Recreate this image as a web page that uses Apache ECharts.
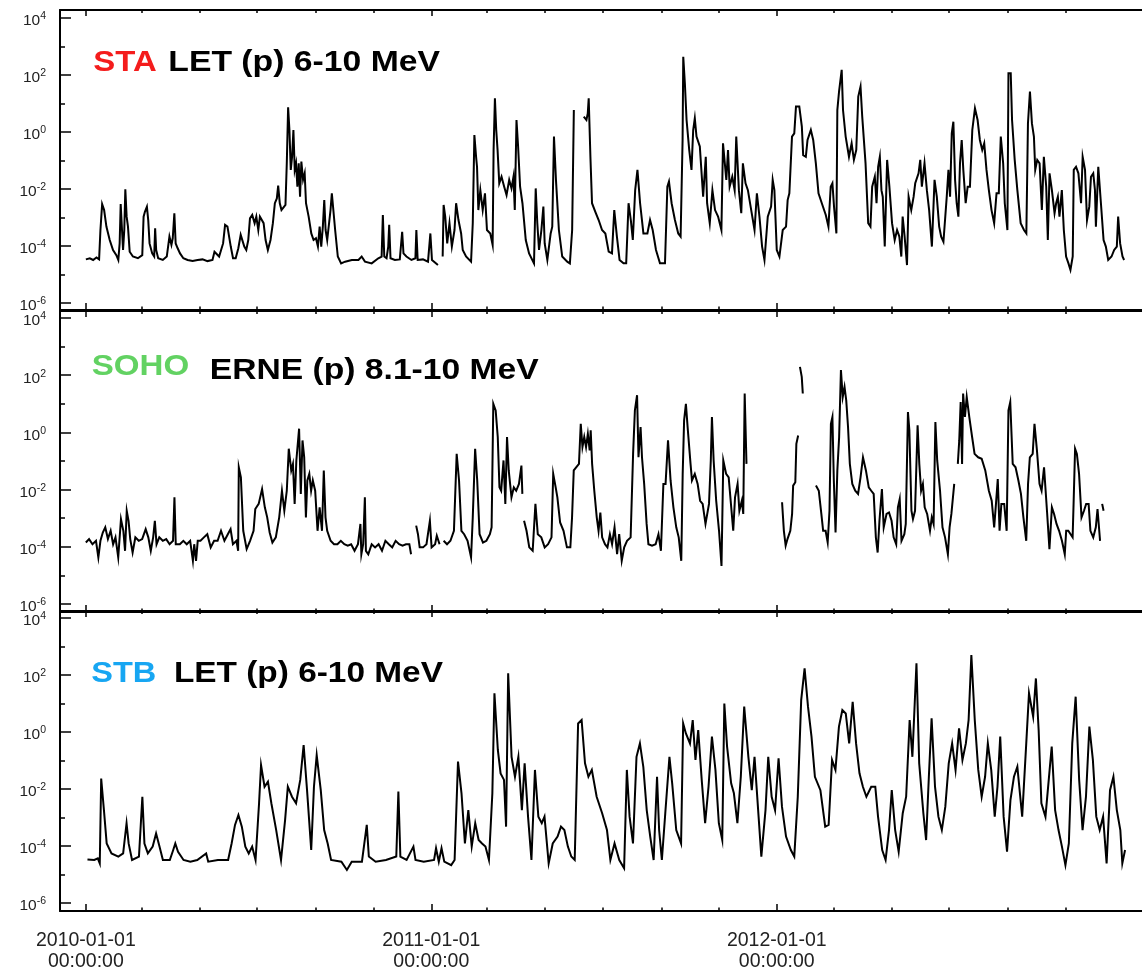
<!DOCTYPE html>
<html>
<head>
<meta charset="utf-8">
<script src="https://cdn.jsdelivr.net/npm/echarts@6/dist/echarts.min.js"></script>
<style>
html,body{margin:0;padding:0;background:#fff;}
#chart{width:1142px;height:972px;}
</style>
</head>
<body>
<div id="chart"></div>
<script>
// ---------- DATA (day offset from 2010-01-01, log10 of flux; null = data gap) ----------
const staPoints = [[0,-4.47],[4.2,-4.43],[7.7,-4.49],[11.2,-4.4],[14,-4.47],[15.4,-3.44],[17.2,-2.53],[19.3,-2.74],[21.7,-3.32],[25.2,-3.79],[28.7,-4.14],[32.2,-4.32],[34.3,-4.49],[35.7,-3.91],[36.8,-2.53],[38.2,-3.44],[39.3,-4.14],[40.6,-3.44],[41.7,-2.01],[43.1,-2.97],[44.5,-3.32],[46.3,-4.2],[49.7,-4.37],[55,-4.43],[59.6,-4.32],[61,-2.97],[62.4,-2.8],[64.5,-2.62],[65.9,-3.09],[67.3,-3.91],[70.1,-4.26],[72.2,-4.37],[73.2,-3.38],[74.3,-4.14],[76.4,-4.43],[81.3,-4.49],[85.5,-4.37],[88.3,-3.67],[90.4,-3.96],[91.8,-3.73],[93.5,-2.85],[94.9,-3.91],[97,-4.08],[99.5,-4.26],[103,-4.43],[107.5,-4.49],[112.8,-4.53],[118,-4.49],[123.3,-4.47],[128.5,-4.53],[133.8,-4.49],[135.9,-4.2],[138,-4.26],[140.8,-4.37],[142.9,-4.14],[145,-3.91],[147.1,-3.26],[149.6,-3.32],[151.3,-3.26],[153.1,-4.02],[155.5,-4.43],[158.3,-4.43],[161.1,-4.08],[163.6,-3.61],[165.3,-3.56],[167.4,-4.02],[169.5,-4.14],[171.6,-3.79],[173.4,-3.03],[175.8,-2.91],[178.3,-3.2],[180.1,-2.97],[182.2,-3.44],[183.9,-2.97],[185.7,-2.91],[187.8,-3.2],[189.9,-3.79],[192.3,-4.14],[195.1,-3.79],[197.6,-3.2],[199.7,-2.5],[201.8,-2.33],[203.2,-1.88],[204.9,-2.5],[206.7,-2.74],[208.8,-2.8],[210.9,-2.56],[212.3,-1.1],[213.7,0.87],[215.1,0.07],[216.5,-1.33],[217.9,-0.87],[219.3,0.07],[220.7,-1.33],[222.1,-1.1],[223.5,-1.92],[224.9,-1.1],[226.3,-2.27],[227.7,-1.04],[229.5,-1.68],[231.2,-1.45],[232.6,-2.5],[235.4,-2.97],[238.2,-3.56],[240.6,-3.79],[243.1,-3.73],[245.2,-4.02],[247,-3.32],[248.7,-4.02],[250.4,-3.32],[251.9,-2.39],[253.3,-3.44],[255,-3.79],[257.1,-3.79],[258.5,-2.74],[259.9,-2.15],[261.7,-2.09],[263.4,-3.44],[266.2,-4.37],[269.7,-4.61],[273.9,-4.55],[281,-4.49],[288,-4.49],[291.4,-4.37],[294.9,-4.55],[302,-4.61],[309,-4.43],[312.5,-4.37],[313.8,-2.91],[315.3,-4.37],[317.7,-4.43],[319.5,-4.02],[320.5,-3.26],[321.9,-4.43],[326.5,-4.49],[331.7,-4.47],[334.2,-3.5],[335.6,-4.26],[338.7,-4.37],[344,-4.49],[348.2,-4.43],[349.2,-3.44],[350.6,-4.49],[356.2,-4.47],[361.5,-4.55],[364,-3.56],[365.7,-4.49],[372,-4.67],[374.5,null],
[377,-4.37],[378,-2.56],[379.7,-2.97],[381.8,-3.91],[384.2,-3.2],[386.7,-4.02],[389.5,-3.44],[391.2,-2.5],[393.7,-3.09],[396.5,-3.56],[398.2,-4.14],[401.7,-4.37],[407,-4.55],[408.8,-3.2],[410.5,-0.11],[412.3,-0.87],[413.3,-1.22],[414.7,-2.74],[416.8,-2.04],[419.3,-2.74],[421.7,-2.15],[423.8,-3.44],[427.3,-3.56],[429.8,-3.96],[430.8,-0.63],[432.2,1.18],[433.6,0.07],[435,-0.63],[436.8,-1.8],[439.2,-1.57],[442,-1.92],[444.5,-2.21],[447.3,-1.68],[449.7,-1.98],[451.8,-1.57],[453.2,-2.74],[455,0.42],[456.7,-0.51],[458.8,-1.92],[461.3,-2.5],[464.8,-3.79],[468.3,-4.26],[473.5,-4.61],[475.3,-1.98],[477,-3.2],[478.8,-4.14],[481.3,-3.44],[483.4,-2.62],[484.8,-3.91],[487.6,-4.49],[491.1,-3.56],[492.8,-3.32],[494.6,-0.16],[496.7,-1.68],[499.8,-3.44],[503.3,-4.37],[508.6,-4.55],[511.4,-4.61],[513.8,-3.44],[515.6,0.77],[520,null],
[526.1,0.54],[528.9,0.42],[530.3,0.65],[531.3,1.18],[533.1,-0.87],[534.8,-2.5],[538.3,-2.8],[541.8,-3.09],[545.4,-3.44],[548.9,-3.56],[552.4,-4.2],[555.9,-4.26],[558.3,-2.74],[561.1,-3.67],[563.9,-4.49],[568.1,-4.61],[570.9,-4.61],[573.4,-2.5],[575.8,-3.09],[577.9,-3.79],[580.4,-2.04],[582.8,-1.33],[585.6,-2.5],[589.1,-3.56],[593.3,-3.56],[596.1,-3.09],[598.9,-3.44],[602.4,-4.14],[606.6,-4.61],[611.9,-4.61],[614.4,-1.92],[616.1,-1.74],[618.9,-2.5],[622.4,-3.09],[625.9,-3.56],[628.4,-3.67],[630.5,-0.28],[631.2,2.64],[632.9,1.71],[634.7,0.42],[637.5,-0.63],[639.9,-1.33],[641.7,0.07],[643.4,0.48],[645.2,-0.16],[648.7,-0.51],[652.2,-2.27],[655,-0.87],[656.4,-2.5],[659.2,-3.2],[662,-2.04],[664.8,-2.74],[668,-2.97],[671.5,-3.44],[673.2,-0.4],[675,-0.34],[676.7,-1.68],[678.5,-0.63],[680.2,-1.92],[683,-1.57],[685.5,-2.04],[687.2,-0.16],[690,-2.04],[692.5,-2.85],[694.2,-1.1],[697,-1.8],[699.5,-2.04],[703,-2.74],[706.5,-3.44],[709,-2.15],[711.7,-2.97],[714.5,-4.02],[717,-4.49],[720.5,-2.97],[724,-2.62],[725.7,-1.68],[727.5,-2.04],[730,-4.14],[732.8,-4.37],[736.3,-3.44],[739.8,-3.32],[741.5,-2.39],[743.3,-2.15],[746.1,-0.16],[748.5,-0.05],[750.3,0.89],[753.8,0.89],[756.5,0.19],[757.9,-0.81],[760.7,-0.87],[762.5,-0.28],[766,0.07],[768.5,-0.28],[771.3,-1.1],[774.1,-2.15],[777.6,-2.5],[781.8,-2.91],[784.6,-3.32],[787,-1.92],[788.8,-1.8],[790.5,-2.62],[793,-3.56],[794,0.77],[795.8,1.42],[798.6,2.18],[800,0.77],[802.8,-0.16],[806.3,-0.87],[809.1,-0.4],[811.5,-0.98],[814,-0.63],[816.1,1.24],[818.5,1.59],[820.3,0.54],[823.8,-1.1],[826.6,-3.2],[829,-3.32],[830.8,-1.92],[833.6,-1.57],[835.4,-2.5],[837.1,-1.22],[838.9,-0.87],[840.6,-2.04],[842,-2.27],[844.1,-4.02],[846.6,-0.98],[849,-1.92],[851.8,-3.2],[854.6,-3.79],[857.1,-3.44],[859.5,-3.67],[861.6,-4.37],[863,-2.97],[865.1,-3.67],[867.6,-4.67],[869.3,-2.27],[872.1,-2.74],[874.6,-2.27],[876.3,-1.8],[879.8,-1.45],[881.6,-0.98],[883.3,-1.92],[886.1,-1.1],[888.6,-2.04],[891,-2.74],[893.9,-4.02],[896.7,-1.68],[899.1,-2.27],[901.6,-3.32],[903.7,-3.67],[906.1,-3.85],[909.6,-2.27],[911.4,-1.33],[913.1,-2.27],[914.9,-0.05],[916.6,0.36],[918.4,-1.68],[920.1,-2.5],[921.9,-2.97],[923.6,-1.1],[925.4,-0.28],[927.1,-1.33],[929.6,-2.5],[931.7,-1.92],[934.1,-1.92],[936.6,0.07],[939.4,0.83],[942.2,0.42],[944.6,-0.28],[947.1,-0.63],[949.2,-0.4],[951.6,-1.33],[954.1,-2.04],[956.9,-2.74],[959.7,-3.2],[962.2,-2.15],[964.6,-2.15],[966.7,-0.16],[969.2,-1.1],[970.9,-2.5],[973.7,-3.44],[974.8,2.06],[977.2,2.06],[978.6,0.42],[981.4,-0.98],[984.2,-2.04],[987.7,-3.2],[991.2,-3.44],[993.7,-3.56],[995.4,0.3],[997.5,1.42],[999.6,0.3],[1001.7,-0.16],[1003.1,-1.33],[1005.2,-0.98],[1007.7,-1.1],[1010.1,-2.74],[1012.2,-0.87],[1014.7,-1.92],[1016.4,-3.79],[1018.2,-1.45],[1020.7,-2.04],[1023.5,-2.85],[1025.2,-2.5],[1027,-2.27],[1028.7,-2.97],[1031.2,-2.04],[1033.3,-3.44],[1035.7,-4.37],[1038.2,-4.61],[1040.3,-4.84],[1042.7,-4.37],[1043.8,-1.33],[1046.2,-1.22],[1048.7,-1.45],[1051.5,-2.5],[1053.2,-0.87],[1055.7,-1.33],[1057.8,-3.09],[1060.2,-2.62],[1062,-1.57],[1064.4,-1.45],[1066.2,-2.04],[1067.2,-3.32],[1069.7,-1.22],[1072.5,-2.5],[1075.3,-3.79],[1077.7,-4.02],[1080.2,-4.49],[1083.7,-4.37],[1086.5,-4.14],[1089.3,-4.02],[1090.7,-2.97],[1092.8,-3.91],[1095.3,-4.37],[1097,-4.49]];

const sohoPoints = [[0,-3.85],[3.4,-3.73],[7,-3.91],[10.7,-3.79],[13.2,-4.37],[15.4,-3.79],[17.9,-3.5],[20.5,-3.32],[23.3,-3.73],[26.2,-3.44],[28.8,-3.91],[31.3,-3.67],[34.2,-4.37],[37.1,-3.03],[39.6,-3.44],[41.4,-4.14],[43.2,-2.74],[45.1,-3.09],[46.9,-3.73],[49.4,-4.2],[52.3,-3.67],[55.9,-3.79],[59.5,-3.73],[63.2,-3.38],[66,-3.67],[68.6,-4.14],[71.1,-3.67],[72.9,-3.09],[74.7,-3.91],[77.6,-3.67],[81.3,-3.79],[84.9,-3.73],[88.5,-3.91],[92.1,-3.79],[93.6,-2.27],[95,-3.91],[99.3,-3.91],[103,-3.79],[106.6,-3.91],[110.2,-3.79],[113.1,-4.49],[114.5,-3.91],[116.4,-4.49],[118.2,-3.79],[121.1,-3.79],[124.7,-3.67],[128.3,-3.56],[131.9,-4.02],[135.5,-3.79],[139.2,-3.79],[142.8,-3.44],[146.4,-3.79],[150,-3.56],[152.9,-3.38],[155.4,-3.91],[159.1,-3.79],[160.9,-4.14],[161.6,-1.22],[163.8,-1.57],[166.3,-3.44],[169.9,-4.08],[173.5,-3.79],[177.2,-3.44],[179,-2.68],[182.6,-2.5],[186.2,-1.98],[189.1,-2.62],[191.6,-2.97],[194.2,-3.5],[197.1,-3.85],[200.7,-3.67],[204.3,-2.97],[207.2,-2.04],[209.7,-2.74],[212.3,-2.04],[214.4,-0.57],[217,-1.33],[218.8,-1.1],[220.6,-2.5],[222.4,-0.98],[225.3,0.13],[227.1,-2.15],[228.9,-0.28],[230.7,-0.87],[232.5,-2.97],[234,-1.68],[236.1,-1.45],[238,-2.04],[239.8,-1.68],[242.3,-2.04],[244.8,-3.44],[247,-2.62],[249.5,-3.44],[251.4,-1.33],[253.2,-2.97],[255,-3.44],[258.6,-3.79],[262.2,-3.91],[265.8,-3.91],[269.4,-3.79],[273.1,-3.91],[276.7,-3.96],[280.3,-3.91],[283.9,-4.14],[287.5,-3.91],[290.1,-3.2],[291.1,-4.26],[293,-3.91],[294.8,-2.27],[295.9,-4.14],[298.4,-4.26],[302,-3.91],[305.6,-4.02],[309.3,-3.91],[312.9,-4.14],[316.5,-3.79],[320.1,-3.91],[323.7,-4.02],[327.3,-3.79],[331,-3.91],[334.6,-3.96],[338.2,-3.91],[341.8,-3.91],[343.6,-4.26],[346,null],[349,-3.26],[350.9,-3.56],[352.7,-4.02],[356.3,-4.02],[359.9,-3.91],[363.5,-3.09],[365.3,-4.02],[369,-3.91],[370.8,-3.61],[373.7,-3.91],[376,null],[378,-3.79],[381.6,-3.91],[385.2,-3.79],[388.9,-3.44],[391.8,-0.75],[394.3,-1.68],[396.8,-3.44],[399.7,-3.56],[403.3,-3.79],[407,-4.37],[408.8,-2.97],[411.3,-0.57],[413.5,-1.68],[416,-3.56],[419.6,-3.85],[423.2,-3.79],[426.9,-3.56],[428.7,-3.32],[430.5,1.0],[433,0.77],[435.2,-0.16],[437,-1.92],[438.8,-2.04],[441.3,-0.98],[443.2,-2.5],[445,-0.16],[446.8,-1.33],[449.7,-2.27],[452.2,-1.92],[454.7,-2.04],[457.6,-1.8],[460.2,-1.16],[461.2,-2.15],[462,null],[463,-3.09],[465.6,-3.44],[468.5,-4.02],[472.1,-4.14],[475,-2.5],[477.5,-3.56],[481.2,-3.67],[484.8,-4.02],[488.4,-3.91],[492,-3.67],[493.8,-1.45],[496.4,-1.92],[498.2,-2.27],[501.1,-3.15],[504.7,-3.44],[508.3,-4.02],[511.9,-4.02],[513.7,-2.97],[515.5,-1.33],[521,-1.1],[522.9,0.3],[524.7,-0.51],[526.6,-0.16],[528.5,-0.51],[530.4,-0.05],[532.3,-0.63],[533.4,0.07],[534.9,-1.1],[537.2,-2.04],[539.8,-2.97],[541.7,-3.44],[543.6,-2.8],[545.5,-3.67],[548.5,-3.91],[551.1,-4.02],[553.7,-3.56],[556,-3.91],[558.6,-3.32],[561.3,-4.26],[563.5,-3.56],[566.2,-4.49],[568.8,-4.02],[571.8,-3.79],[575.6,-3.67],[578.2,-0.75],[580.1,0.77],[582.4,1.3],[583.9,-0.87],[586.1,0.19],[587.6,-0.87],[589.9,-1.8],[592.5,-3.2],[594.4,-3.91],[598.2,-3.96],[602,-3.91],[605,-3.56],[607.6,-4.14],[610.2,-1.8],[612.5,-1.8],[615.1,-0.28],[617.8,-1.68],[620.8,-2.62],[623.8,-3.32],[626.4,-3.67],[629.1,-4.49],[630.6,-1.45],[632.1,0.42],[634,1.0],[635.8,0.19],[638.9,-1.1],[640.4,-1.68],[643.4,-1.45],[646.4,-1.8],[649,-2.39],[651.7,-2.5],[654.7,-3.2],[658.4,-2.5],[660.3,-0.98],[661.5,0.54],[663.3,-0.98],[666,-2.39],[669,-3.44],[671.6,-4.67],[673.5,-0.98],[676.5,-1.45],[679.2,-1.57],[681,-1.57],[684,-3.44],[685.9,-2.27],[688.6,-1.8],[690.5,-2.74],[693.1,-2.39],[694.6,-2.85],[696.1,1.36],[698,-1.1],[700,null],[735.6,-2.44],[737.5,-3.44],[739.4,-3.96],[741.3,-3.73],[744.3,-3.44],[746.2,-2.85],[747.3,-1.86],[749.6,-1.74],[750.7,-0.4],[752.6,-0.11],[753.5,null],[754.5,2.29],[756.4,1.94],[757.5,1.36],[759,null],[771.4,-1.86],[774.4,-2.04],[777.1,-2.85],[779,-3.44],[781.6,-3.44],[783.8,-3.85],[785.7,-2.74],[787.2,0.3],[788.8,0.54],[790.3,-1.68],[792.1,-3.5],[794,-1.33],[795.9,-0.16],[797.8,2.18],[799.7,1.24],[801.6,1.59],[803.4,1.12],[805.3,0.19],[807.2,-1.1],[809.8,-1.8],[812.9,-2.04],[815.9,-2.15],[818.5,-1.57],[821.1,-0.87],[824.2,-1.33],[827.2,-1.92],[829.8,-2.04],[832.4,-2.15],[834.7,-3.67],[836.6,-4.2],[838.5,-3.09],[841.1,-1.98],[843,-3.32],[846,-2.85],[848.6,-2.8],[851.3,-3.09],[853.5,-3.67],[856.2,-3.91],[858,-2.62],[859.9,-2.33],[861.8,-3.79],[864.8,-3.56],[866.3,-3.2],[868.6,0.71],[870.1,0.07],[872.3,-2.74],[873.9,-3.03],[876.1,-2.74],[878.8,0.25],[880.6,-1.1],[882.5,-2.04],[884.4,-1.8],[886.3,-2.62],[888.9,-2.85],[891.9,-3.44],[893.8,-2.97],[895.7,-3.2],[897.6,0.36],[899.5,-0.98],[902.5,-2.04],[905.1,-3.32],[907.8,-3.67],[910.8,-4.26],[912.6,-3.32],[914.5,-2.85],[917.5,-1.8],[919,null],[921.3,-1.1],[922.8,-0.28],[924.3,1.06],[925.8,-1.1],[926.9,1.36],[928.8,0.54],[930.7,1.24],[933.4,0.54],[936.4,-0.16],[939,-0.75],[942.8,-0.87],[946.5,-0.92],[950.3,-1.33],[954.1,-2.04],[957.1,-2.39],[959.7,-3.32],[961.6,-2.5],[963.5,-1.63],[965.4,-3.44],[967.3,-2.5],[970.3,-2.5],[972.9,-3.44],[974.8,0.77],[976.7,1.06],[979.3,-1.1],[982.3,-1.22],[985.3,-1.68],[988,-2.15],[990.6,-2.97],[993.6,-3.79],[995.5,-1.8],[997.4,-0.87],[1000.4,-0.75],[1002.3,0.3],[1004.9,-0.63],[1007.6,-1.8],[1009.8,-2.04],[1012.4,-1.22],[1015.5,-2.74],[1018.1,-4.08],[1020.7,-2.62],[1023,-2.85],[1025.6,-3.2],[1028.3,-3.44],[1031.3,-3.79],[1034.3,-4.26],[1035.8,-3.44],[1038,-3.44],[1042.6,-3.67],[1043.7,-2.39],[1045.2,-0.57],[1047.1,-0.75],[1049.4,-1.45],[1052,-2.97],[1054.6,-2.74],[1056.9,-2.5],[1059.5,-2.5],[1061.4,-3.44],[1064.4,-3.67],[1067.1,-3.32],[1068.9,-2.68],[1071.6,-3.79],[1073,null],[1073.8,-2.5],[1075.3,-2.74]];

const stbPoints = [[1.7,-4.47],[8.9,-4.49],[12.6,-4.43],[14.7,-4.61],[16.2,-1.63],[19.1,-2.74],[22,-3.91],[27.1,-4.26],[34.3,-4.37],[39.4,-4.26],[43,-3.2],[45.2,-3.91],[48.8,-4.49],[56.1,-4.37],[59.7,-2.27],[61.9,-3.91],[65.5,-4.26],[70.6,-4.02],[74.2,-3.56],[77.8,-4.02],[81.4,-4.49],[88.7,-4.49],[92.3,-4.14],[94.5,-3.91],[97.4,-4.2],[103.2,-4.49],[110.4,-4.55],[117.7,-4.49],[127.1,-4.26],[129.3,-4.55],[139.5,-4.49],[150.3,-4.49],[154,-3.91],[157.6,-3.26],[161.2,-2.91],[164.8,-3.32],[168.5,-4.02],[172.1,-4.26],[175.7,-4.02],[179.3,-4.49],[183,-2.5],[185.1,-1.16],[188.8,-1.92],[192.4,-1.74],[196,-2.5],[201.1,-3.44],[206.2,-4.49],[210.5,-3.09],[213.4,-1.92],[217.8,-2.27],[222.1,-2.5],[226.5,-1.68],[230.1,-0.46],[233.7,-2.04],[238.1,-4.14],[241,-1.92],[243.9,-0.81],[248.2,-2.04],[251.8,-3.44],[255.5,-3.91],[259.1,-4.49],[270,-4.55],[275.8,-4.84],[280.9,-4.55],[291.7,-4.55],[296.8,-3.26],[299,-4.37],[306.2,-4.55],[317.1,-4.49],[328,-4.37],[330.2,-2.09],[332.3,-4.37],[338.9,-4.49],[346.1,-4.02],[348.3,-4.49],[357,-4.55],[367.9,-4.49],[370,-4.08],[372.9,-4.55],[375.8,-4.08],[378.7,-4.55],[386,-4.67],[389.6,-4.49],[393.2,-1.04],[396.9,-2.15],[400.5,-3.91],[404.1,-2.74],[407.7,-4.02],[411.4,-3.2],[415,-3.79],[418.6,-3.91],[422.2,-4.02],[425.9,-4.49],[429.5,-2.15],[431.7,1.36],[435.3,-0.63],[438.2,-1.45],[441.8,-1.68],[444,-3.32],[446.2,2.06],[449.8,-0.87],[453.4,-1.57],[457,-0.87],[460.7,-2.74],[463.6,-1.1],[467.2,-2.97],[470.8,-4.49],[474.5,-1.33],[478.1,-2.97],[481.7,-3.2],[484.6,-2.97],[489,-4.61],[493.3,-3.91],[498.4,-3.67],[502,-3.32],[505.6,-3.44],[509.3,-4.02],[512.9,-4.37],[516.5,-4.49],[520.1,0.3],[523.8,0.42],[527.4,-1.1],[531,-1.57],[534.6,-1.33],[539.7,-2.27],[545.5,-2.85],[550.6,-3.44],[554.2,-4.49],[558.6,-3.91],[563.6,-4.49],[568.7,-4.78],[571.6,-1.33],[574.5,-2.97],[578.1,-3.91],[581.8,-0.87],[585.4,-0.4],[589,-1.22],[592.6,-2.74],[596.3,-3.67],[599.9,-4.49],[603.5,-1.57],[605.7,-3.44],[608.6,-4.49],[612.2,-2.85],[616.6,-0.87],[619.5,-1.8],[623.8,-3.44],[628.9,-3.91],[631.1,0.3],[634,-0.05],[638.3,-0.4],[641.2,0.42],[644.1,-0.98],[647,0.07],[650.7,-1.68],[654.3,-3.2],[657.9,-1.92],[661.5,-0.16],[665.2,-1.33],[668.8,-3.2],[672.4,-3.79],[674.6,1.0],[677.5,-0.51],[681.8,-1.8],[684.7,-2.15],[688.4,-3.2],[692,-1.57],[695.6,0.89],[700,-0.87],[703.6,-2.04],[706.5,-0.87],[710.8,-2.97],[713.7,-4.37],[718.1,-2.74],[721,-0.87],[724.6,-2.27],[728.2,-2.74],[731.9,-0.92],[735.5,-2.62],[739.8,-3.67],[744.9,-4.14],[748.5,-4.37],[752.2,-2.27],[755.8,1.12],[759.4,2.23],[763,0.89],[766.7,-0.16],[770.3,-1.57],[776.1,-2.04],[781.2,-3.32],[784.8,-3.26],[788.4,-0.98],[792,-1.33],[795.7,0.19],[799.3,0.77],[802.9,0.65],[806.5,-0.4],[810.2,1.06],[813.8,-0.4],[817.4,-1.45],[821,-1.92],[824.7,-2.27],[829.8,-1.92],[834.1,-1.92],[837,-2.97],[841.4,-4.14],[845,-4.49],[848.6,-3.44],[851.5,-2.04],[855.1,-3.44],[858.8,-4.2],[863.1,-2.85],[866.7,-2.27],[870.4,0.42],[873.3,-0.87],[877.6,2.41],[880.5,-1.1],[884.9,-2.85],[887.8,-3.79],[890.7,-1.57],[893.6,0.48],[897.2,-1.92],[900.8,-2.97],[904.4,-3.44],[908.1,-2.62],[911.7,-1.1],[915.3,-0.4],[918.9,-1.33],[922.6,0.13],[926.2,-0.98],[929.8,-0.4],[932.7,0.42],[935.6,2.7],[939.2,0.42],[942.9,-1.33],[946.5,-2.27],[950.1,-1.57],[953,-0.4],[956.6,-1.33],[960.3,-2.97],[963.2,-1.92],[966.1,-0.16],[969.7,-2.97],[973.3,-4.2],[976.9,-2.39],[980.6,-1.57],[984.2,-1.22],[989.3,-2.97],[993.6,-0.4],[996.5,1.36],[1000.9,0.54],[1003.8,1.88],[1006.7,0.07],[1009.6,-2.5],[1013.9,-2.97],[1018.3,-1.33],[1020.5,-0.51],[1024.1,-2.74],[1027.7,-3.44],[1031.3,-4.02],[1035,-4.67],[1038.6,-3.91],[1042.2,-0.4],[1045.8,1.24],[1049.5,-1.68],[1053.1,-3.44],[1056.7,-2.27],[1060.3,0.19],[1064,-0.98],[1067.6,-2.97],[1071.2,-3.44],[1074.8,-2.97],[1078.5,-4.61],[1082.1,-2.04],[1085.7,-1.57],[1089.3,-2.74],[1093,-3.44],[1095.1,-4.61],[1098,-4.14]];

// tick positions / labels
const xMajorDates = ['2010-01-01','2011-01-01','2012-01-01'];
const xMinorDates = ['2010-03-01','2010-05-01','2010-07-01','2010-09-01','2010-11-01','2011-03-01','2011-05-01','2011-07-01','2011-09-01','2011-11-01','2012-03-01','2012-05-01','2012-07-01','2012-09-01','2012-11-01'];
const xTimeLabel = '00:00:00';
const yMajorExp = [-6,-4,-2,0,2,4];
const yMinorExp = [-5,-3,-1,1,3];
const panelTitles = [
  [{text:'STA', color:'#f41c1c'}, {text:'LET (p) 6-10 MeV', color:'#000000'}],
  [{text:'SOHO', color:'#62d262'}, {text:'ERNE (p) 8.1-10 MeV', color:'#000000'}],
  [{text:'STB', color:'#17a6f2'}, {text:'LET (p) 6-10 MeV', color:'#000000'}]
];

// ---------- LAYOUT / STYLE ----------
const FONT = '"Liberation Sans", Arial, Helvetica, sans-serif';
const DAY = 86400000;
const T0 = Date.UTC(2010,0,1);
const toT = d => T0 + d*DAY;
const parseD = s => { const p = s.split('-').map(Number); return Date.UTC(p[0], p[1]-1, p[2]); };
const xMin = toT(-27.32), xMax = toT(1115.9);
const grids = [
  {left:60, right:-6, top:10, height:300},
  {left:60, right:-6, top:311, height:301},
  {left:60, right:-6, top:611, height:301}
];
const yRanges = [[-6.246,4.28],[-6.28,4.246],[-6.28,4.246]];
const titlePos = [
  [{x:93.3, y:62.5, w:63.4}, {x:168.3, y:62.5, w:271.7}],
  [{x:91.7, y:366.3, w:97.5}, {x:209.8, y:370.8, w:328.9}],
  [{x:91.3, y:674.2, w:65}, {x:173.9, y:674.2, w:269}]
];
const xMajorTs = xMajorDates.map(parseD);
const xMinorTs = xMinorDates.map(parseD);
const line = {color:'#000', width:2};
const tickLine = {color:'#000', width:1.5};
const labelMap = {};
xMajorTs.forEach((t,i)=>{ labelMap[t] = xMajorDates[i] + '\n' + xTimeLabel; });

function xAxesFor(g){
  const c = {gridIndex:g, type:'value', min:xMin, max:xMax, splitLine:{show:false}, offset:0, scale:true};
  return [
    Object.assign({}, c, {position:'bottom', axisLine:{show:true, onZero:false, lineStyle:line},
      axisTick:{show:true, inside:true, length:7, customValues:xMajorTs, lineStyle:tickLine},
      axisLabel:{show:g===2, customValues:xMajorTs, formatter:v=>labelMap[v]||'', margin:19,
        fontSize:19.5, lineHeight:21, color:'#222', fontFamily:FONT, align:'center'}}),
    Object.assign({}, c, {position:'bottom', axisLine:{show:false, onZero:false},
      axisTick:{show:true, inside:true, length:3.5, customValues:xMinorTs, lineStyle:tickLine},
      axisLabel:{show:false}}),
    Object.assign({}, c, {position:'top', axisLine:{show:true, onZero:false, lineStyle:line},
      axisTick:{show:true, inside:true, length:6, customValues:xMajorTs, lineStyle:tickLine},
      axisLabel:{show:false}}),
    Object.assign({}, c, {position:'top', axisLine:{show:false, onZero:false},
      axisTick:{show:true, inside:true, length:3, customValues:xMinorTs, lineStyle:tickLine},
      axisLabel:{show:false}})
  ];
}
function yAxesFor(g){
  const c = {gridIndex:g, type:'value', min:yRanges[g][0], max:yRanges[g][1], splitLine:{show:false}, offset:0, position:'left'};
  return [
    Object.assign({}, c, {axisLine:{show:true, onZero:false, lineStyle:line},
      axisTick:{show:true, inside:true, length:11, customValues:yMajorExp, lineStyle:tickLine},
      axisLabel:{show:true, customValues:yMajorExp, margin:14, padding:[6,0,0,0],
        formatter:v=>'{b|10}{e|' + v + '}',
        rich:{
          b:{fontSize:15.5, lineHeight:20, color:'#222', fontFamily:FONT},
          e:{fontSize:10.5, lineHeight:10, verticalAlign:'top', color:'#222', fontFamily:FONT}
        }}}),
    Object.assign({}, c, {axisLine:{show:false, onZero:false},
      axisTick:{show:true, inside:true, length:5, customValues:yMinorExp, lineStyle:tickLine},
      axisLabel:{show:false}})
  ];
}

const xAxis = [].concat(xAxesFor(0), xAxesFor(1), xAxesFor(2));
const yAxis = [].concat(yAxesFor(0), yAxesFor(1), yAxesFor(2));
const seriesPts = [staPoints, sohoPoints, stbPoints];
const series = seriesPts.map((pts,g)=>({
  type:'line', xAxisIndex:4*g, yAxisIndex:2*g, showSymbol:false, symbol:'none',
  connectNulls:false, lineStyle:{color:'#000', width:2, join:'miter'}, silent:true,
  data: pts.map(p=>[toT(p[0]), p[1]===null ? '-' : p[1]])
}));

const measureCtx = document.createElement('canvas').getContext('2d');
const TFONT = 'bold 30px ' + FONT;
measureCtx.font = TFONT;
const graphic = [];
panelTitles.forEach((parts,g)=>{
  parts.forEach((p,i)=>{
    const pos = titlePos[g][i];
    const w = measureCtx.measureText(p.text).width;
    graphic.push({type:'text', x:pos.x, y:pos.y, scaleX: pos.w / w, silent:true,
      style:{text:p.text, x:0, y:0, font:TFONT, fill:p.color, verticalAlign:'middle', align:'left'}});
  });
});

const chart = echarts.init(document.getElementById('chart'), null, {renderer:'canvas'});
chart.setOption({
  animation:false,
  backgroundColor:'#fff',
  grid: grids,
  xAxis, yAxis, series, graphic
});
</script>
</body>
</html>
